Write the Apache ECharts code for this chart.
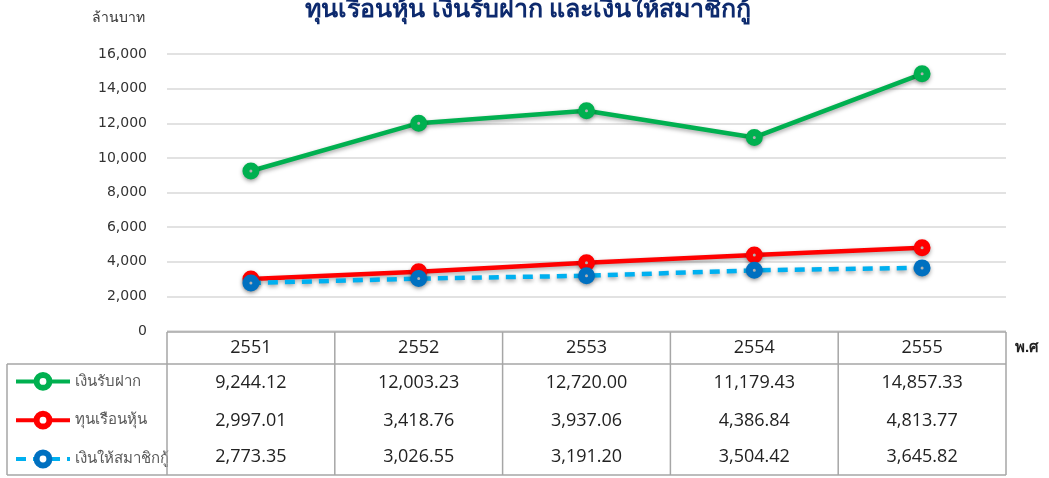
<!DOCTYPE html>
<html>
<head>
<meta charset="utf-8">
<script src="https://cdn.jsdelivr.net/npm/echarts@6/dist/echarts.min.js"></script>
<style>
  html, body { margin: 0; padding: 0; background: #fff; }
  #chart { width: 1049px; height: 478px; }
</style>
</head>
<body>
<div id="chart"></div>
<script>
// years (พ.ศ.) and the three series, in millions of baht
var years = ["2551", "2552", "2553", "2554", "2555"];
var deposits = [9244.12, 12003.23, 12720.00, 11179.43, 14857.33];
var shares = [2997.01, 3418.76, 3937.06, 4386.84, 4813.77];
var loans = [2773.35, 3026.55, 3191.20, 3504.42, 3645.82];
var seriesNames = ["เงินรับฝาก", "ทุนเรือนหุ้น", "เงินให้สมาชิกกู้"];
var markColors = ["#00b050", "#ff0000", "#0070c0"];

var fmt = function (v) {
  return v.toLocaleString("en-US", { minimumFractionDigits: 2, maximumFractionDigits: 2 });
};

// grid box, also used for the data table lines
var G = { left: 167, right: 1006, top: 54, bottom: 331 };
var tableBottom = 475, headerBottom = 364, tableLeft = 7;

var shadow = { shadowBlur: 4, shadowColor: "rgba(0,0,0,0.35)", shadowOffsetY: 2 };

function lineSeries(name, data, lineColor, markColor, dashed) {
  return {
    name: name,
    type: "line",
    data: data,
    symbol: "circle",
    symbolSize: 10,
    lineStyle: Object.assign({ color: lineColor, width: 4.5, type: dashed ? [10, 7] : "solid" }, shadow),
    itemStyle: Object.assign({ color: "#fff", borderColor: markColor, borderWidth: 7 }, shadow),
    emphasis: { disabled: true },
    z: 3
  };
}

// one extra hidden x axis per table row, its labels are the row values
function rowAxis(values, margin) {
  return {
    type: "category",
    data: values.map(fmt),
    position: "bottom",
    axisLine: { show: false },
    axisTick: { show: false },
    axisLabel: {
      margin: margin, verticalAlign: "middle", color: "#222",
      fontFamily: "Open Sans", fontSize: 18
    }
  };
}

var tableLines = [];
function hline(x1, x2, y) {
  tableLines.push({ type: "line", shape: { x1: x1, y1: y, x2: x2, y2: y },
    style: { stroke: "#a6a6a6", lineWidth: 1.5 }, z: 10 });
}
function vline(x, y1, y2) {
  tableLines.push({ type: "line", shape: { x1: x, y1: y1, x2: x, y2: y2 },
    style: { stroke: "#a6a6a6", lineWidth: 1.5 }, z: 10 });
}
hline(G.left, G.right, G.bottom + 1);
hline(tableLeft, G.right, headerBottom);
hline(tableLeft, G.right, tableBottom);
vline(tableLeft, headerBottom, tableBottom);
for (var i = 0; i <= years.length; i++) {
  vline(G.left + i * (G.right - G.left) / years.length, G.bottom + 1, tableBottom);
}

var chart = echarts.init(document.getElementById("chart"));
chart.setOption({
  animation: false,
  title: {
    text: "ทุนเรือนหุ้น เงินรับฝาก และเงินให้สมาชิกกู้",
    left: 523, textAlign: "center", top: -7,
    textStyle: { color: "#0d2a6e", fontSize: 25, fontWeight: "bold" }
  },
  legend: {
    orient: "vertical",
    left: 14, top: 372, height: 110,
    padding: 0,
    itemWidth: 54, itemHeight: 16, itemGap: 20,
    textStyle: { color: "#595959", fontSize: 15 },
    data: seriesNames.map(function (n, k) {
      return {
        name: n,
        itemStyle: { color: "#fff", borderColor: markColors[k], borderWidth: 6 },
        lineStyle: { width: 4 }
      };
    })
  },
  grid: { left: G.left, right: 1049 - G.right, top: G.top, bottom: 478 - G.bottom },
  xAxis: [
    {
      type: "category",
      data: years,
      axisLine: { show: false },
      axisTick: { show: false },
      axisLabel: { margin: 17, verticalAlign: "middle", color: "#222", fontFamily: "Open Sans", fontSize: 18 }
    },
    rowAxis(deposits, 52),
    rowAxis(shares, 90),
    rowAxis(loans, 126)
  ],
  yAxis: {
    type: "value",
    min: 0, max: 16000, interval: 2000,
    name: "ล้านบาท",
    nameLocation: "end",
    nameGap: 29,
    nameTextStyle: { color: "#333", fontSize: 14, align: "right", padding: [0, 22, 0, 0] },
    axisLine: { show: false },
    axisTick: { show: false },
    splitLine: { lineStyle: { color: "#d9d9d9", width: 1.5 } },
    axisLabel: {
      margin: 20, color: "#333", fontFamily: "DejaVu Sans", fontSize: 14,
      formatter: function (v) { return v.toLocaleString("en-US"); }
    }
  },
  graphic: tableLines.concat([
    { type: "text", left: 1015, top: 340,
      style: { text: "พ.ศ", fill: "#222", font: "bold 15px sans-serif" } }
  ]),
  series: [
    lineSeries(seriesNames[0], deposits, "#00b050", markColors[0], false),
    lineSeries(seriesNames[1], shares, "#ff0000", markColors[1], false),
    lineSeries(seriesNames[2], loans, "#00b0f0", markColors[2], true)
  ]
});
</script>
</body>
</html>
